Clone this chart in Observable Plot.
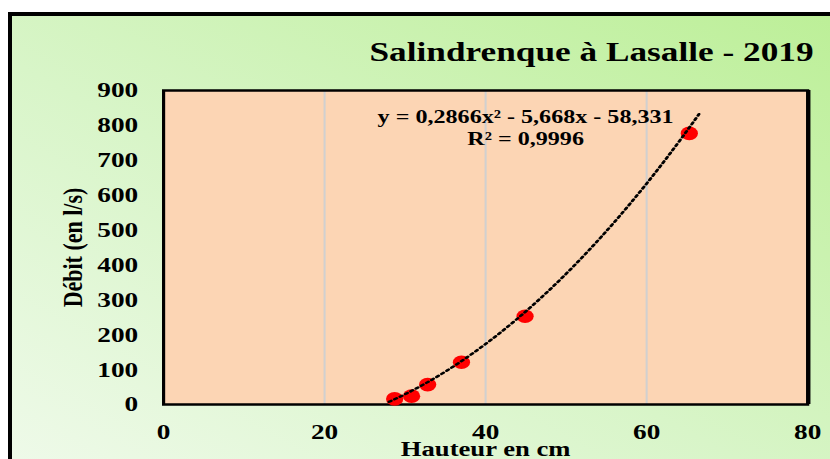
<!DOCTYPE html>
<html><head><meta charset="utf-8">
<script src="https://cdn.jsdelivr.net/npm/d3@7"></script>
<script src="https://cdn.jsdelivr.net/npm/@observablehq/plot@0.6"></script>
<style>
html,body{margin:0;padding:0;background:#fff;width:830px;height:459px;overflow:hidden;position:relative}
#bg{position:absolute;left:8px;top:12px;width:840px;height:460px;border-left:4px solid #000;border-top:4px solid #000;background:linear-gradient(to top right,#effaea 0%,#d8f5c8 45%,#bcef97 100%);}
#wrap{position:absolute;left:0;top:0;transform:scaleX(1.2691);transform-origin:0 0}
</style></head><body>
<div id="bg"></div><div id="wrap"></div>
<script>
// Data
const hauteur = [28.7, 30.8, 32.8, 37.0, 44.9, 65.3];   // Hauteur en cm
const debit   = [16, 24, 57, 121, 253, 777];           // Débit (en l/s)
const xTicks = [0, 20, 40, 60, 80];
const yTicks = [0, 100, 200, 300, 400, 500, 600, 700, 800, 900];
const titre = "Salindrenque à Lasalle - 2019";
const xLabel = "Hauteur en cm";
const yLabel = "Débit (en l/s)";
const equation = "y = 0,2866x² - 5,668x - 58,331";
const r2 = "R² = 0,9996";
// polynomial trendline coefficients shown on chart (a, b, c) and its extent
const coef = [0.2866, -5.668, -58.331];
const trendExtent = [28, 66.5];

const points = hauteur.map((h, i) => ({h, q: debit[i]}));
const trend = d3.range(trendExtent[0], trendExtent[1] + 1e-9, 0.25)
  .map(h => ({h, q: coef[0] * h * h + coef[1] * h + coef[2]}));

const chart = Plot.plot({
  width: 654, height: 459,
  marginLeft: 128.4, marginRight: 18.1, marginTop: 90, marginBottom: 55,
  style: {background: "transparent", fontFamily: "'Liberation Serif', 'Times New Roman', serif", fontWeight: "bold", fontSize: "21.5px", color: "#000", overflow: "visible"},
  x: {domain: [0, 80], ticks: xTicks, label: null},
  y: {domain: [0, 900], ticks: yTicks, label: null},
  marks: [
    Plot.frame({fill: "#fcd5b4"}),
    Plot.gridX(xTicks.slice(1, -1), {stroke: "#d0d0d0", strokeOpacity: 1, strokeWidth: 1.6}),
    Plot.frame({stroke: "#000", strokeWidth: 2.5}),
    Plot.ruleX([80], {stroke: "#000", strokeWidth: 3.2, dx: 0.6}),
    Plot.dot(points, {x: "h", y: "q", r: 6.8, fill: "#ff0000", stroke: "none"}),
    Plot.line(trend, {x: "h", y: "q", stroke: "#000", strokeWidth: 2.4, strokeDasharray: "2,3", curve: "linear"}),
    Plot.axisX({ticks: xTicks, tickSize: 0, tickPadding: 19, label: null, fontSize: 21.5}),
    Plot.axisY({ticks: yTicks, tickSize: 0, tickPadding: 20, label: null, fontSize: 21.5}),
    Plot.text([equation + "\n" + r2], {frameAnchor: "top", dx: 31.5, dy: 17, fontSize: 19, lineHeight: 1.16, fontWeight: "bold", fill: "#000"}),
    Plot.text([titre], {frameAnchor: "top-right", textAnchor: "end", lineAnchor: "bottom", dx: 4.7, dy: -30, fontSize: 27.8, fontWeight: "bold", fill: "#000"}),
    Plot.text([xLabel], {frameAnchor: "bottom", lineAnchor: "bottom", dy: 51.5, fontSize: 21, fontWeight: "bold", fill: "#000"}),
    Plot.text([yLabel], {frameAnchor: "left", textAnchor: "middle", rotate: -90, dx: -71.7, fontSize: 22, fontWeight: "bold", fill: "#000"})
  ]
});
document.getElementById("wrap").appendChild(chart);
</script>
</body></html>
